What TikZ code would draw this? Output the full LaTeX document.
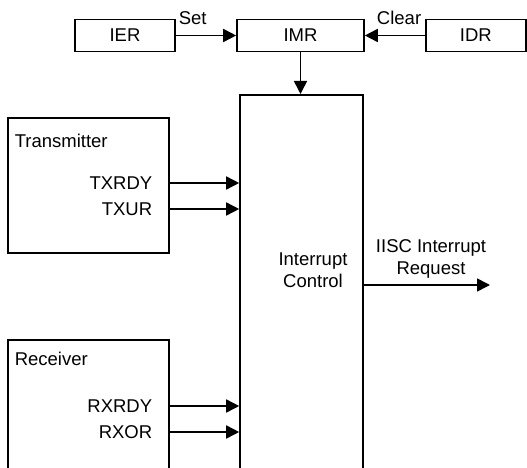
\documentclass[tikz,border=0pt]{standalone}
\usepackage{fontspec}
\setmainfont{Liberation Sans}
\usetikzlibrary{arrows.meta}

\begin{document}
\begin{tikzpicture}[x=1pt, y=1pt, >={Triangle[length=13pt,width=13pt]},
    line width=1.6pt, font=\fontsize{18.5}{22}\selectfont,
    box/.style={draw, line width=1.6pt, inner sep=0pt},
    sig/.style={anchor=east, inner sep=0pt}]
  \useasboundingbox (0,0) rectangle (527,467);
  \clip (0,0) rectangle (527,467);
  % registers
  \node[box, minimum width=100pt, minimum height=32pt] (ier) at (125,431.5) {IER};
  \node[box, minimum width=127pt, minimum height=32pt] (imr) at (300.5,431.5) {IMR};
  \node[box, minimum width=100pt, minimum height=32pt] (idr) at (475.8,431.5) {IDR};
  \node[anchor=base west, inner sep=0pt] (set) at (178,442) {Set};
  \node[anchor=base east, inner sep=0pt] (clear) at (422,442) {Clear};
  \draw[->] (ier) -- (imr);
  \draw[->] (idr) -- (imr);
  % interrupt control
  \node[box, minimum width=123pt, minimum height=400pt, anchor=north] (ctrl) at (301.5,373) {};
  \node[align=center, inner sep=0pt] (ctrltxt) at (313,197) {Interrupt\\Control};
  \draw[->] (imr.south) -- (imr.south |- ctrl.north);
  % transmitter
  \node[box, minimum width=161pt, minimum height=135pt] (tx) at (88.5,281.5) {};
  \node[anchor=west, inner sep=0pt] (txname) at (14,326) {Transmitter};
  \node[sig] (txrdy) at (153,284) {TXRDY};
  \node[sig] (txur) at (153,258) {TXUR};
  \draw[->] (txrdy -| tx.east) -- (txrdy -| ctrl.west);
  \draw[->] (txur -| tx.east) -- (txur -| ctrl.west);
  % receiver
  \node[box, minimum width=161pt, minimum height=200pt, anchor=north] (rx) at (88.5,128) {};
  \node[anchor=west, inner sep=0pt] (rxname) at (14,108) {Receiver};
  \node[sig] (rxrdy) at (153,61) {RXRDY};
  \node[sig] (rxor) at (153,35) {RXOR};
  \draw[->] (rxrdy -| rx.east) -- (rxrdy -| ctrl.west);
  \draw[->] (rxor -| rx.east) -- (rxor -| ctrl.west);
  % output
  \coordinate (irq) at (490,182);
  \draw[->] (irq -| ctrl.east) -- (irq);
  \node[align=center, inner sep=0pt] (irqtxt) at (431,208) {IISC Interrupt\\Request};
\end{tikzpicture}
\end{document}
